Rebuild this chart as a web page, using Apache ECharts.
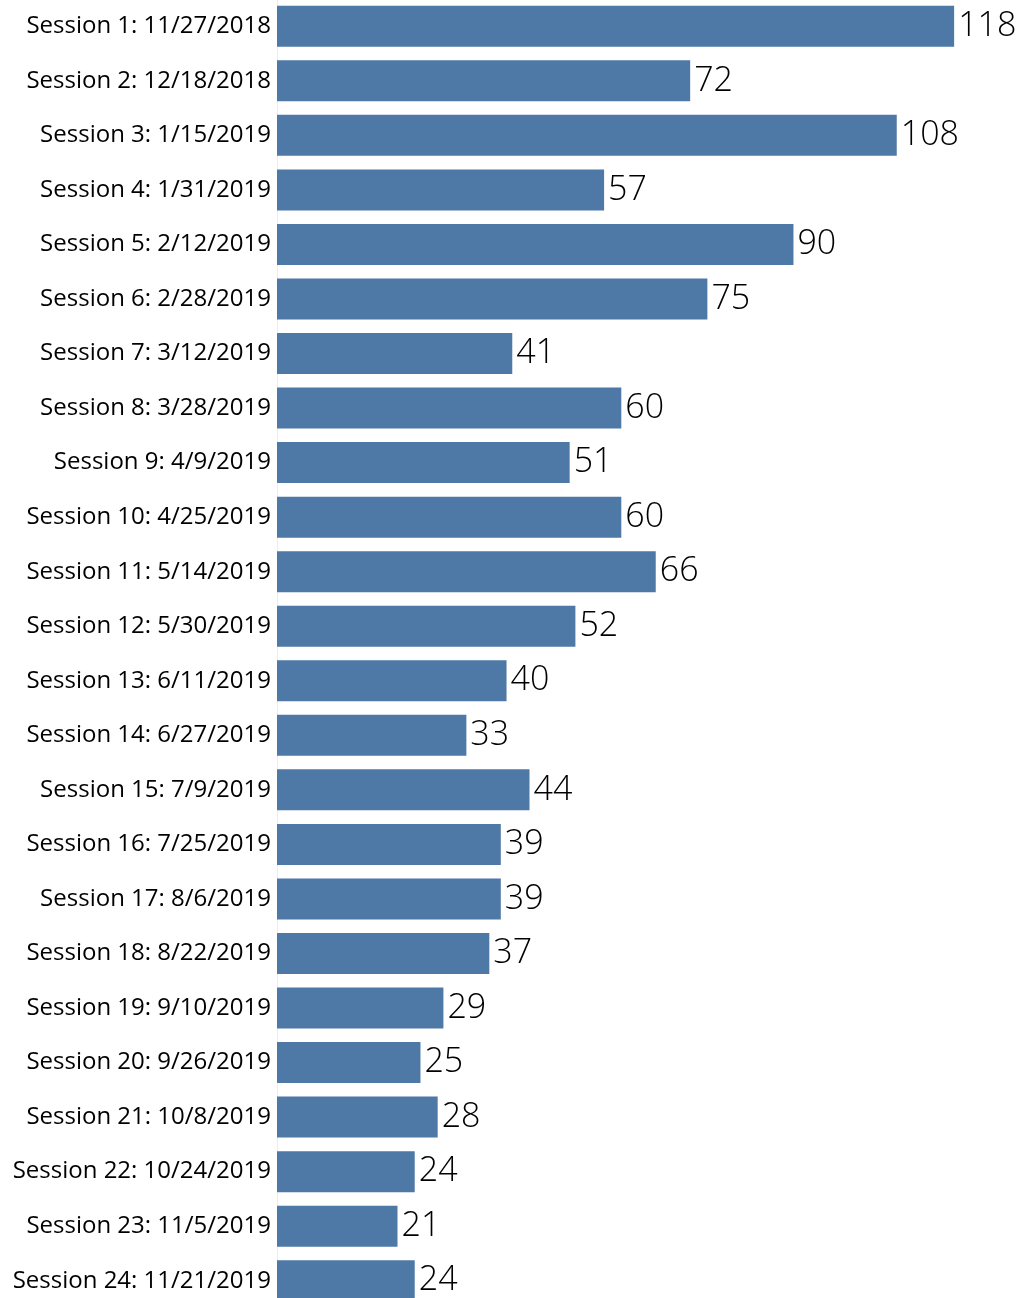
<!DOCTYPE html>
<html><head><meta charset="utf-8">
<script src="https://cdn.jsdelivr.net/npm/echarts@6/dist/echarts.min.js"></script>
<style>html,body{margin:0;padding:0;background:#fff}#c{width:1027px;height:1298px}</style>
</head><body><div id="c"></div>
<script>
const categories = ["Session 1: 11/27/2018","Session 2: 12/18/2018","Session 3: 1/15/2019","Session 4: 1/31/2019","Session 5: 2/12/2019","Session 6: 2/28/2019","Session 7: 3/12/2019","Session 8: 3/28/2019","Session 9: 4/9/2019","Session 10: 4/25/2019","Session 11: 5/14/2019","Session 12: 5/30/2019","Session 13: 6/11/2019","Session 14: 6/27/2019","Session 15: 7/9/2019","Session 16: 7/25/2019","Session 17: 8/6/2019","Session 18: 8/22/2019","Session 19: 9/10/2019","Session 20: 9/26/2019","Session 21: 10/8/2019","Session 22: 10/24/2019","Session 23: 11/5/2019","Session 24: 11/21/2019"];
const values = [118,72,108,57,90,75,41,60,51,60,66,52,40,33,44,39,39,37,29,25,28,24,21,24];

const chart = echarts.init(document.getElementById('c'), null, {renderer:'canvas'});
chart.setOption({
  animation:false,
  grid:{left:277,width:746,top:-1,height:1309,containLabel:false,outerBoundsMode:'none'},
  xAxis:{type:'value',min:0,max:130,show:false},
  yAxis:{type:'category',data:categories,inverse:true,
    axisLine:{show:true,lineStyle:{color:'#ececec',width:1}},
    axisTick:{show:false},
    splitLine:{show:false},
    axisLabel:{color:'#000',fontFamily:'Open Sans',fontSize:24,margin:6,padding:[5,0,0,0]}},
  series:[{type:'bar',data:values,barWidth:41,
    itemStyle:{color:'#4e79a7'},
    label:{show:true,position:'right',distance:4,color:'#000',fontFamily:'Open Sans',fontWeight:300,fontSize:34,padding:[5,0,0,0]}}]
});
</script></body></html>
